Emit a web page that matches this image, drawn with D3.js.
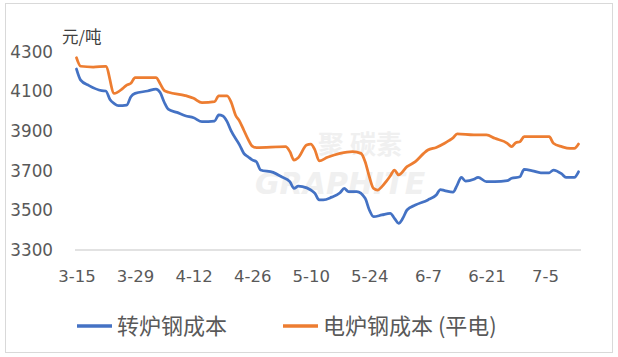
<!DOCTYPE html>
<html>
<head>
<meta charset="utf-8">
<script src="https://cdn.jsdelivr.net/npm/d3@7/dist/d3.min.js"></script>
<style>
  html, body { margin: 0; padding: 0; background: #fff; }
  svg { display: block; }
</style>
</head>
<body>
<svg id="chart" width="618" height="357"></svg>
<script>
// ---- data ----
const unitLabel = "元/吨";
const seriesNames = ["转炉钢成本", "电炉钢成本 (平电)"];
const xTickLabels = ["3-15", "3-29", "4-12", "4-26", "5-10", "5-24", "6-7", "6-21", "7-5"];
const yTicks = [3300, 3500, 3700, 3900, 4100, 4300];

const bofDates = ["3-15","3-16","3-18","3-21","3-22","3-23","3-24","3-25","3-27","3-28","3-29","4-1","4-3","4-4","4-5","4-6","4-8","4-10","4-12","4-14","4-17","4-18","4-19","4-20","4-21","4-23","4-24","4-25","4-26","4-27","4-28","5-1","5-3","5-5","5-6","5-7","5-8","5-10","5-11","5-12","5-13","5-15","5-17","5-18","5-19","5-21","5-23","5-24","5-25","5-27","5-29","5-30","5-31","6-1","6-2","6-4","6-7","6-9","6-10","6-11","6-13","6-14","6-15","6-16","6-18","6-19","6-21","6-23","6-26","6-27","6-29","6-30","7-2","7-4","7-6","7-7","7-9","7-10","7-12","7-13"];
const bofValues = [4214,4158,4130,4105,4103,4060,4040,4029,4032,4074,4091,4103,4113,4095,4045,4010,3995,3978,3968,3948,3951,3982,3977,3948,3900,3830,3788,3771,3755,3746,3704,3692,3670,3645,3611,3622,3620,3603,3586,3553,3553,3567,3589,3611,3595,3595,3561,3502,3468,3477,3485,3460,3435,3460,3502,3527,3553,3578,3605,3600,3592,3628,3667,3648,3657,3667,3645,3645,3650,3662,3670,3707,3700,3690,3690,3704,3684,3667,3667,3695];

const eafDates = ["3-15","3-16","3-19","3-22","3-24","3-26","3-27","3-28","3-29","4-3","4-4","4-5","4-6","4-10","4-12","4-14","4-17","4-18","4-20","4-21","4-22","4-23","4-24","4-25","4-26","4-27","5-4","5-5","5-6","5-7","5-9","5-10","5-11","5-12","5-14","5-17","5-20","5-22","5-23","5-24","5-25","5-26","5-27","5-28","5-29","5-30","5-31","6-2","6-4","6-6","6-7","6-9","6-11","6-12","6-13","6-14","6-18","6-21","6-23","6-26","6-27","6-28","6-29","6-30","7-6","7-7","7-9","7-11","7-12","7-13"];
const eafValues = [4271,4228,4224,4228,4091,4115,4133,4142,4170,4170,4140,4105,4097,4080,4066,4044,4049,4079,4079,4045,3982,3950,3905,3860,3825,3817,3822,3797,3754,3766,3830,3835,3805,3750,3768,3788,3797,3788,3746,3670,3611,3603,3620,3645,3674,3704,3679,3721,3746,3788,3805,3818,3839,3852,3866,3886,3881,3881,3864,3839,3822,3842,3847,3872,3872,3839,3822,3813,3813,3835];

const colors = ["#4472C4", "#ED7D31"];

// ---- helpers ----
const parse = s => { const [m, d] = s.split("-").map(Number); return new Date(2021, m - 1, d); };
const fmt = d => (d.getMonth() + 1) + "-" + d.getDate();

const svg = d3.select("#chart");

// chart border
svg.append("rect").attr("x", 5.5).attr("y", 3.5).attr("width", 607).attr("height", 349)
  .attr("fill", "#fff").attr("stroke", "#d9d9d9").attr("stroke-width", 1);

const x = d3.scaleTime()
  .domain([parse("3-15"), parse("7-13")])
  .range([76.5, 578.5]);
const y = d3.scaleLinear().domain([3300, 4300]).range([250, 52]);

// watermark (faint)
const wm = svg.append("g").attr("fill", "#f0f0f0");
wm.append("text").attr("x", 318).attr("y", 154).attr("font-size", 26).attr("font-weight", 700)
  .attr("font-family", "'Noto Sans CJK SC', sans-serif").text("聚 碳素");
wm.append("text").attr("x", 255).attr("y", 194).attr("font-size", 30).attr("font-weight", 700)
  .attr("font-style", "italic").attr("font-family", "'DejaVu Sans', sans-serif").text("GRAPHITE");

// baseline gridline at 3300
svg.append("line")
  .attr("x1", 75).attr("x2", 581)
  .attr("y1", y(3300)).attr("y2", y(3300))
  .attr("stroke", "#d9d9d9").attr("stroke-width", 1.5);

// y axis
const yAxis = svg.append("g")
  .attr("transform", "translate(75,0)")
  .call(d3.axisLeft(y).tickValues(yTicks).tickSize(0).tickPadding(22).tickFormat(d3.format("d")));
yAxis.select(".domain").remove();
yAxis.selectAll("text")
  .attr("font-family", "'DejaVu Sans', sans-serif")
  .attr("font-size", 16.8).attr("fill", "#595959");

// x axis
const xAxis = svg.append("g")
  .attr("transform", "translate(0," + y(3300) + ")")
  .call(d3.axisBottom(x).tickValues(xTickLabels.map(parse)).tickSize(0).tickPadding(20).tickFormat(fmt));
xAxis.select(".domain").remove();
xAxis.selectAll("text")
  .attr("font-family", "'DejaVu Sans', sans-serif")
  .attr("font-size", 16.5).attr("fill", "#595959");

// unit label
svg.append("text").attr("x", 62).attr("y", 43)
  .attr("font-family", "'Noto Sans CJK SC', sans-serif")
  .attr("font-size", 16.5).attr("fill", "#404040").text(unitLabel);

// lines
const line = d3.line().x(d => x(d.date)).y(d => y(d.value)).curve(d3.curveMonotoneX);
const bof = bofDates.map((s, i) => ({ date: parse(s), value: bofValues[i] }));
const eaf = eafDates.map((s, i) => ({ date: parse(s), value: eafValues[i] }));

svg.append("path").datum(eaf).attr("d", line)
  .attr("fill", "none").attr("stroke", colors[1]).attr("stroke-width", 2.75)
  .attr("stroke-linejoin", "round").attr("stroke-linecap", "round");
svg.append("path").datum(bof).attr("d", line)
  .attr("fill", "none").attr("stroke", colors[0]).attr("stroke-width", 2.75)
  .attr("stroke-linejoin", "round").attr("stroke-linecap", "round");

// legend
const legendItems = [
  { name: seriesNames[0], color: colors[0], x1: 77, x2: 112, tx: 117 },
  { name: seriesNames[1], color: colors[1], x1: 283, x2: 318, tx: 323 }
];
const lg = svg.append("g");
legendItems.forEach(it => {
  lg.append("line").attr("x1", it.x1).attr("x2", it.x2).attr("y1", 326).attr("y2", 326)
    .attr("stroke", it.color).attr("stroke-width", 3.5);
  lg.append("text").attr("x", it.tx).attr("y", 326).attr("dy", "0.36em")
    .attr("font-family", "'Noto Sans CJK SC', sans-serif")
    .attr("font-size", 22).attr("fill", "#595959").text(it.name);
});
</script>
</body>
</html>
